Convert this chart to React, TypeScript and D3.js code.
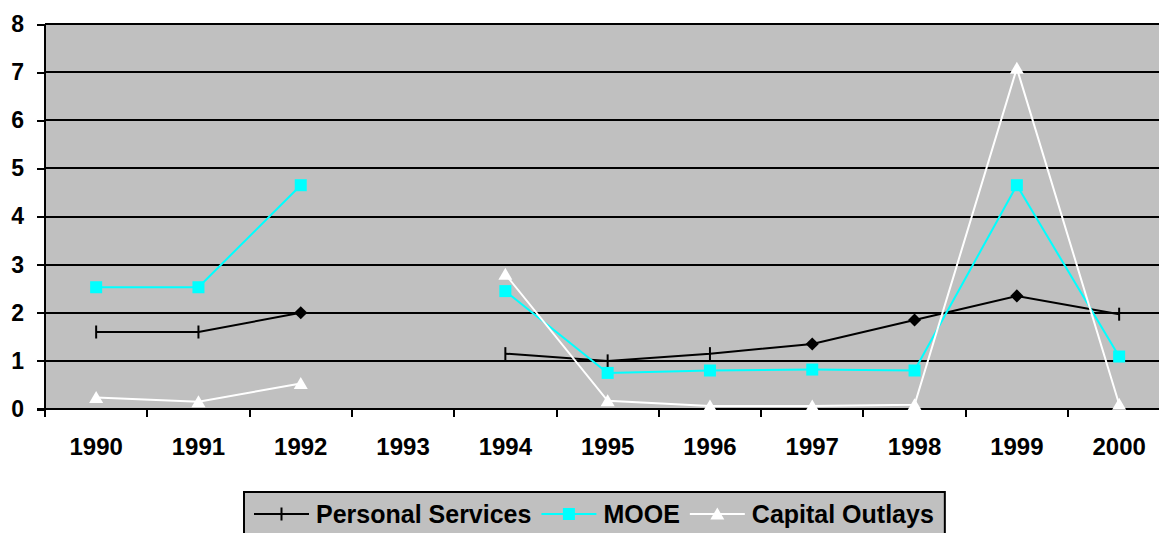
import React, { useEffect, useRef } from "react";
import * as d3 from "d3";

// values (null = no data that year)
const years = ["1990", "1991", "1992", "1993", "1994", "1995", "1996", "1997", "1998", "1999", "2000"];
const personalServices = [1.6, 1.6, 2.0, null, 1.15, 1.0, 1.15, 1.35, 1.85, 2.35, 1.97];
const mooe = [2.53, 2.53, 4.65, null, 2.45, 0.75, 0.8, 0.82, 0.8, 4.65, 1.09];
const capitalOutlays = [0.24, 0.15, 0.53, null, 2.8, 0.17, 0.06, 0.06, 0.09, 7.08, 0.1];
// years where the Personal Services point is shown as a diamond
const psDiamondYears = ["1992", "1997", "1998", "1999"];
const yTicks = [0, 1, 2, 3, 4, 5, 6, 7, 8];

const seriesNames = ["Personal Services", "MOOE", "Capital Outlays"];

const W = 1159;
const H = 533;
const FONT = "'Liberation Sans', Arial, sans-serif";

function App() {
  const svgRef = useRef<SVGSVGElement>(null);

  useEffect(() => {
    const svg = d3.select(svgRef.current);
    svg.selectAll("*").remove();

    const left = 45;
    const top = 24;
    const bottom = 409;
    const band = 102.3;

    const x = d3
      .scaleBand<string>()
      .domain(years)
      .range([left, left + band * years.length])
      .padding(0);
    const y = d3.scaleLinear().domain([0, 8]).range([bottom, top]);
    const cx = (i: number) => (x(years[i]) as number) + x.bandwidth() / 2;

    // plot background
    svg
      .append("rect")
      .attr("x", left)
      .attr("y", top)
      .attr("width", x.range()[1] - left)
      .attr("height", bottom - top)
      .attr("fill", "#C0C0C0");

    // gridlines
    svg
      .append("g")
      .selectAll("line")
      .data(yTicks.slice(1))
      .enter()
      .append("line")
      .attr("x1", left)
      .attr("x2", x.range()[1])
      .attr("y1", (d) => Math.round(y(d)))
      .attr("y2", (d) => Math.round(y(d)))
      .attr("stroke", "#000")
      .attr("stroke-width", 2)
      .attr("shape-rendering", "crispEdges");

    // y axis
    const yAxis = svg
      .append("g")
      .attr("transform", `translate(${left},0)`)
      .call(d3.axisLeft(y).tickValues(yTicks).tickSize(8).tickPadding(13).tickFormat(d3.format("d")));
    yAxis.select(".domain").attr("stroke", "#000").attr("stroke-width", 2).attr("d", `M0,${top}V${bottom}`);
    yAxis.selectAll(".tick line").attr("stroke", "#000").attr("stroke-width", 2).attr("shape-rendering", "crispEdges");
    yAxis
      .selectAll(".tick text")
      .attr("font-family", FONT)
      .attr("font-weight", "bold")
      .attr("font-size", 23)
      .attr("fill", "#000");

    // x axis with ticks between categories
    const xAxisG = svg.append("g");
    xAxisG
      .append("line")
      .attr("x1", left - 8)
      .attr("x2", x.range()[1])
      .attr("y1", bottom)
      .attr("y2", bottom)
      .attr("stroke", "#000")
      .attr("stroke-width", 2)
      .attr("shape-rendering", "crispEdges");
    xAxisG
      .selectAll("line.tk")
      .data(years)
      .enter()
      .append("line")
      .attr("class", "tk")
      .attr("x1", (d) => x(d) as number)
      .attr("x2", (d) => x(d) as number)
      .attr("y1", bottom)
      .attr("y2", bottom + 8)
      .attr("stroke", "#000")
      .attr("stroke-width", 2)
      .attr("shape-rendering", "crispEdges");
    xAxisG
      .selectAll("text")
      .data(years)
      .enter()
      .append("text")
      .attr("x", (d, i) => cx(i))
      .attr("y", 455)
      .attr("text-anchor", "middle")
      .attr("font-family", FONT)
      .attr("font-weight", "bold")
      .attr("font-size", 24)
      .text((d) => d);

    const line = d3
      .line<number | null>()
      .defined((d) => d !== null)
      .x((d, i) => cx(i))
      .y((d) => y(d as number));

    // Personal Services
    svg
      .append("path")
      .attr("d", line(personalServices))
      .attr("fill", "none")
      .attr("stroke", "#000")
      .attr("stroke-width", 2);
    personalServices.forEach((v, i) => {
      if (v === null) return;
      if (psDiamondYears.includes(years[i])) {
        svg
          .append("path")
          .attr("d", d3.symbol(d3.symbolDiamond2, 110)())
          .attr("transform", `translate(${cx(i)},${y(v)})`)
          .attr("fill", "#000");
      } else {
        svg
          .append("line")
          .attr("x1", cx(i))
          .attr("x2", cx(i))
          .attr("y1", y(v) - 6.5)
          .attr("y2", y(v) + 6.5)
          .attr("stroke", "#000")
          .attr("stroke-width", 2);
      }
    });

    // MOOE
    svg
      .append("path")
      .attr("d", line(mooe))
      .attr("fill", "none")
      .attr("stroke", "#00FFFF")
      .attr("stroke-width", 2);
    svg
      .append("g")
      .selectAll("rect")
      .data(mooe.map((v, i) => ({ v, i })).filter((d) => d.v !== null))
      .enter()
      .append("rect")
      .attr("x", (d) => cx(d.i) - 6)
      .attr("y", (d) => y(d.v as number) - 6)
      .attr("width", 12)
      .attr("height", 12)
      .attr("fill", "#00FFFF");

    // Capital Outlays
    svg
      .append("path")
      .attr("d", line(capitalOutlays))
      .attr("fill", "none")
      .attr("stroke", "#FFFFFF")
      .attr("stroke-width", 2);
    const tri = "M0,-6.5L7,5.5L-7,5.5Z";
    svg
      .append("g")
      .selectAll("path")
      .data(capitalOutlays.map((v, i) => ({ v, i })).filter((d) => d.v !== null))
      .enter()
      .append("path")
      .attr("d", tri)
      .attr("transform", (d) => `translate(${cx(d.i)},${y(d.v as number)})`)
      .attr("fill", "#FFFFFF");

    // legend
    const lg = svg.append("g");
    const box = lg
      .append("rect")
      .attr("x", 244)
      .attr("y", 492)
      .attr("height", 60)
      .attr("fill", "#C0C0C0")
      .attr("stroke", "#000")
      .attr("stroke-width", 2);
    const colors = ["#000", "#00FFFF", "#FFFFFF"];
    let cursor = 254;
    const ly = 514;
    seriesNames.forEach((name, k) => {
      lg.append("line")
        .attr("x1", cursor)
        .attr("x2", cursor + 55)
        .attr("y1", ly)
        .attr("y2", ly)
        .attr("stroke", colors[k])
        .attr("stroke-width", 2);
      const mx = cursor + 27.5;
      if (k === 0) {
        lg.append("line")
          .attr("x1", mx)
          .attr("x2", mx)
          .attr("y1", ly - 6.5)
          .attr("y2", ly + 6.5)
          .attr("stroke", "#000")
          .attr("stroke-width", 2);
      } else if (k === 1) {
        lg.append("rect").attr("x", mx - 6).attr("y", ly - 6).attr("width", 12).attr("height", 12).attr("fill", "#00FFFF");
      } else {
        lg.append("path").attr("d", tri).attr("transform", `translate(${mx},${ly})`).attr("fill", "#FFFFFF");
      }
      const t = lg
        .append("text")
        .attr("x", cursor + 62)
        .attr("y", 523)
        .attr("font-family", FONT)
        .attr("font-weight", "bold")
        .attr("font-size", 25)
        .attr("fill", "#000")
        .text(name);
      const tw = (t.node() as SVGTextElement).getComputedTextLength();
      cursor = cursor + 62 + tw + 10;
    });
    box.attr("width", cursor + 1 - 244);
  }, []);

  return (
    <svg
      ref={svgRef}
      width={W}
      height={H}
      style={{ position: "absolute", left: 0, top: 0, background: "#fff", overflow: "hidden" }}
    />
  );
}

export default App;
